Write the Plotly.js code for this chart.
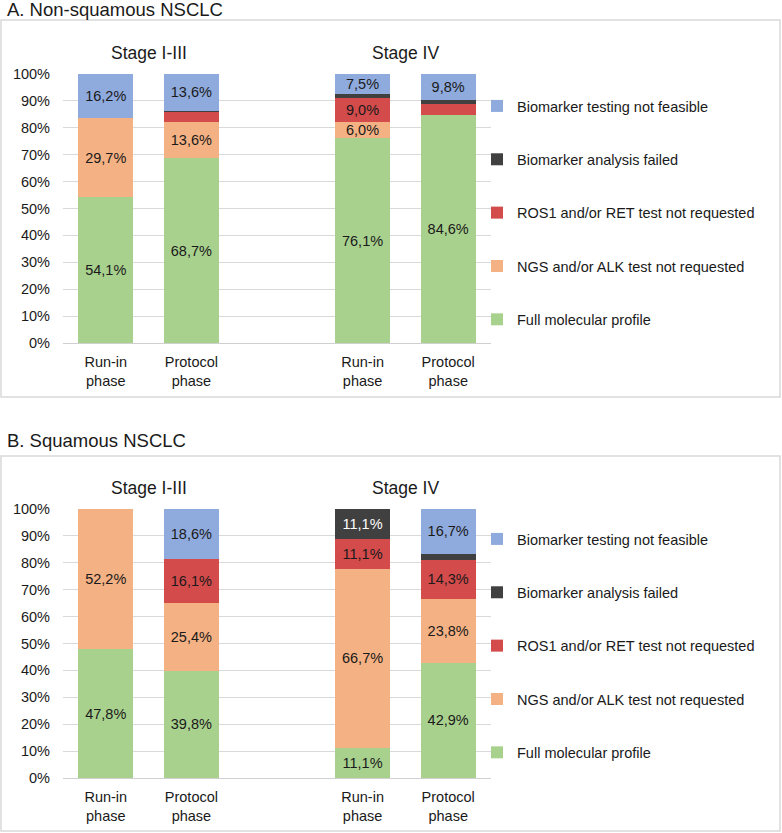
<!DOCTYPE html>
<html>
<head>
<meta charset="utf-8">
<script src="https://cdn.plot.ly/plotly-3.0.1.min.js"></script>
<style>html,body{margin:0;padding:0;background:#fff;}#chart{width:782px;height:833px;}</style>
</head>
<body>
<div id="chart"></div>
<script>
// ---- data ----
const stages = ['Stage I-III', 'Stage IV'];
const phases = ['Run-in<br>phase', 'Protocol<br>phase'];
const seriesNames = [
  'Full molecular profile',
  'NGS and/or ALK test not requested',
  'ROS1 and/or RET test not requested',
  'Biomarker analysis failed',
  'Biomarker testing not feasible'
];
const seriesColors = ['#a9d18e', '#f4b183', '#d34b4b', '#404040', '#8faadc'];
const panelTitles = ['A. Non-squamous NSCLC', 'B. Squamous NSCLC'];

// order of bars: [Stage I-III run-in, Stage I-III protocol, Stage IV run-in, Stage IV protocol]
// Panel A: non-squamous
const aFull        = [54.1, 68.7, 76.1, 84.6];
const aNgsAlk      = [29.7, 13.6, 6.0, 0.0];
const aRosRet      = [0.0, 3.4, 9.0, 4.2];
const aFailed      = [0.0, 0.7, 1.4, 1.4];
const aNotFeasible = [16.2, 13.6, 7.5, 9.8];
// Panel B: squamous
const bFull        = [47.8, 39.8, 11.1, 42.9];
const bNgsAlk      = [52.2, 25.4, 66.7, 23.8];
const bRosRet      = [0.0, 16.1, 11.1, 14.3];
const bFailed      = [0.0, 0.0, 11.1, 2.4];
const bNotFeasible = [0.0, 18.6, 0.0, 16.7];

const yTickVals = [0, 10, 20, 30, 40, 50, 60, 70, 80, 90, 100];

// ---- build ----
const FONT = 'Liberation Sans, Arial, sans-serif';
const W = 782, H = 833;
const px = v => v / W;
const py = v => (H - v) / H;

const pos = [];
const tickText = [];
stages.forEach((s, si) => phases.forEach((p, pi) => { pos.push(si * 3 + pi); tickText.push(p); }));

const panels = [
  [aFull, aNgsAlk, aRosRet, aFailed, aNotFeasible],
  [bFull, bNgsAlk, bRosRet, bFailed, bNotFeasible]
];

const fmt = v => v >= 5 ? v.toFixed(1).replace('.', ',') + '%' : '';

const traces = [];
panels.forEach((series, k) => {
  series.forEach((vals, i) => {
    traces.push({
      type: 'bar',
      x: pos,
      y: vals,
      name: seriesNames[i],
      xaxis: k === 0 ? 'x' : 'x2',
      yaxis: k === 0 ? 'y' : 'y2',
      legend: k === 0 ? 'legend' : 'legend2',
      legendgroup: 'p' + k + 's' + i,
      legendrank: 1000 + (seriesNames.length - 1 - i) * 10,
      width: 0.643,
      marker: { color: seriesColors[i], line: { width: 0 } },
      text: vals.map(fmt),
      textposition: 'inside',
      insidetextanchor: 'middle',
      textangle: 0,
      textfont: { family: FONT, size: 14.5, color: i === 3 ? '#ffffff' : '#1a1a1a' },
      hoverinfo: 'skip'
    });
  });
});

const xCommon = {
  domain: [px(63), px(491)],
  range: [-0.5, 4.5],
  tickvals: pos,
  ticktext: tickText,
  ticks: '',
  showgrid: false,
  zeroline: false,
  showline: true,
  linecolor: '#d0d0d0',
  linewidth: 1,
  ticklabelstandoff: 6,
  tickfont: { family: FONT, size: 14.5, color: '#1a1a1a' },
  fixedrange: true
};
const yCommon = {
  range: [0, 100],
  tickvals: yTickVals,
  ticktext: yTickVals.map(v => v + '%'),
  showgrid: true,
  gridcolor: '#d9d9d9',
  gridwidth: 1,
  zeroline: false,
  showline: false,
  ticks: '',
  ticklabelstandoff: 12,
  tickfont: { family: FONT, size: 14.5, color: '#1a1a1a' },
  fixedrange: true
};

const legendCommon = {
  x: px(477), xanchor: 'left',
  yanchor: 'top',
  traceorder: 'grouped',
  tracegroupgap: 31.5,
  font: { family: FONT, size: 14.5, color: '#1a1a1a' },
  bgcolor: 'rgba(0,0,0,0)',
  borderwidth: 0
};

const stageCenters = stages.map((s, si) => (pos[si * 2] + pos[si * 2 + 1]) / 2);

const annotations = [];
panelTitles.forEach((t, k) => {
  annotations.push({
    text: t, xref: 'paper', yref: 'paper', x: px(5), y: py(k === 0 ? 9 : 440),
    xanchor: 'left', yanchor: 'middle', showarrow: false,
    font: { family: FONT, size: 18.5, color: '#1a1a1a' }
  });
  stages.forEach((s, si) => {
    annotations.push({
      text: s, xref: k === 0 ? 'x' : 'x2', yref: 'paper', x: stageCenters[si], y: py(k === 0 ? 53 : 488),
      xanchor: 'center', yanchor: 'middle', showarrow: false,
      font: { family: FONT, size: 17.5, color: '#1a1a1a' }
    });
  });
});

const shapes = [
  { type: 'rect', xref: 'paper', yref: 'paper', x0: px(1), x1: px(780), y0: py(20), y1: py(397),
    line: { color: '#d9d9d9', width: 1.5 }, fillcolor: 'rgba(0,0,0,0)', layer: 'below' },
  { type: 'rect', xref: 'paper', yref: 'paper', x0: px(1), x1: px(780), y0: py(456), y1: py(831),
    line: { color: '#d9d9d9', width: 1.5 }, fillcolor: 'rgba(0,0,0,0)', layer: 'below' }
];

const layout = {
  width: W, height: H,
  margin: { l: 0, r: 0, t: 0, b: 0 },
  paper_bgcolor: '#ffffff',
  plot_bgcolor: 'rgba(0,0,0,0)',
  barmode: 'stack',
  bargap: 0,
  showlegend: true,
  font: { family: FONT, color: '#1a1a1a' },
  uniformtext: { mode: 'show', minsize: 14.5 },
  xaxis: Object.assign({}, xCommon, { anchor: 'y' }),
  yaxis: Object.assign({}, yCommon, { domain: [py(343), py(74)], anchor: 'x' }),
  xaxis2: Object.assign({}, xCommon, { anchor: 'y2' }),
  yaxis2: Object.assign({}, yCommon, { domain: [py(778), py(509)], anchor: 'x2' }),
  legend: Object.assign({}, legendCommon, { y: py(90) }),
  legend2: Object.assign({}, legendCommon, { y: py(523) }),
  annotations: annotations,
  shapes: shapes
};

Plotly.newPlot('chart', traces, layout, { displayModeBar: false, staticPlot: true });
</script>
</body>
</html>
